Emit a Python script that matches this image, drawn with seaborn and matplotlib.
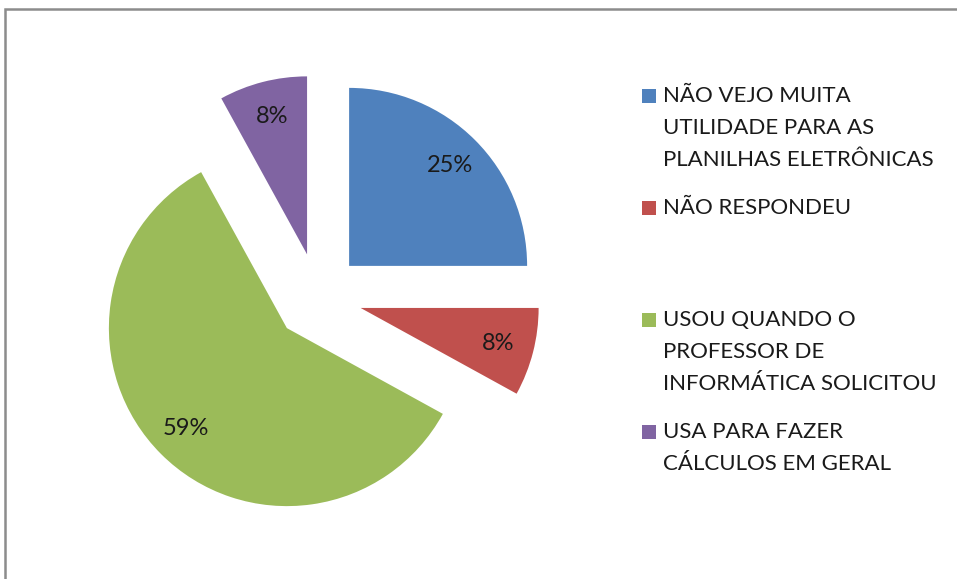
import matplotlib
matplotlib.use("Agg")
import matplotlib.pyplot as plt
import matplotlib.patches as mpatches
import seaborn as sns

# dados
categorias = [
    'NÃO VEJO MUITA\nUTILIDADE PARA AS\nPLANILHAS ELETRÔNICAS',
    'NÃO RESPONDEU',
    'USOU QUANDO O\nPROFESSOR DE\nINFORMÁTICA SOLICITOU',
    'USA PARA FAZER\nCÁLCULOS EM GERAL',
]
percentuais = [25, 8, 59, 8]
cores = ['#4F81BD', '#C0504D', '#9BBB59', '#8064A2']

sns.set_theme(style='white')
plt.rcParams['font.family'] = ['Lato', 'DejaVu Sans']

fig = plt.figure(figsize=(9.57, 5.79), dpi=100)
ax = fig.add_axes([0, 0, 1, 1])

wedges, texts, autotexts = ax.pie(
    percentuais,
    colors=sns.color_palette(cores),
    startangle=90,
    counterclock=False,
    explode=[44] * len(percentuais),
    radius=178,
    center=(318, 282),
    autopct='%.0f%%',
    pctdistance=0.8,
    wedgeprops={'linewidth': 0},
    textprops={'fontsize': 17, 'color': '#1a1a1a'},
)
ax.set_xlim(0, 957)
ax.set_ylim(0, 579)
ax.set_aspect('auto')
ax.axis('off')

# legenda manual (posições como no original)
y_leg = [483, 371, 259, 147]
for cat, cor, y in zip(categorias, cores, y_leg):
    ax.add_patch(mpatches.Rectangle((642, y - 7), 14, 14, color=cor, lw=0))
    ax.text(663, y + 10, cat, fontsize=16, color='#1a1a1a', va='top',
            ha='left', linespacing=1.76)

# moldura cinza (só topo e esquerda visíveis)
fig.add_artist(mpatches.Rectangle((5 / 957, -0.1), 1.2, 1 - 9 / 579 + 0.1,
                                  transform=fig.transFigure, fill=False,
                                  edgecolor='#8c8c8c', lw=1.8))

fig.savefig('out.png', dpi=100, facecolor='white')
